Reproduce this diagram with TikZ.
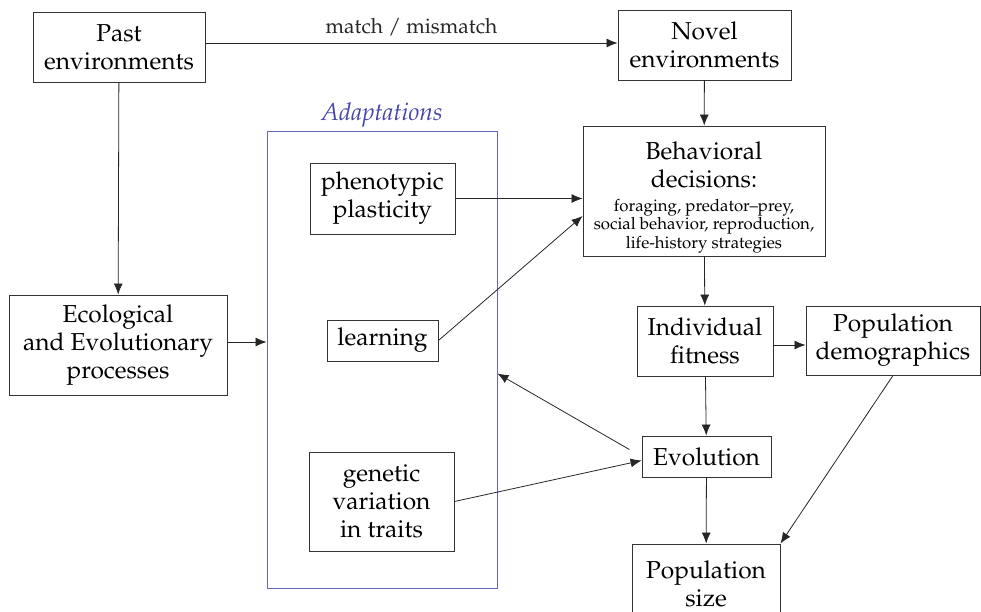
\documentclass[tikz,border=0pt]{standalone}
\usepackage[T1]{fontenc}
\usepackage{mathpazo}
\usetikzlibrary{arrows.meta}
\definecolor{adaptblue}{RGB}{100,100,195}
\definecolor{adapttext}{RGB}{70,70,170}
\tikzset{
  box/.style={draw=black!80, line width=0.9pt, align=center, inner sep=0pt,
    font=\fontsize{24.5}{28}\selectfont},
  small/.style={align=center, inner sep=0pt, font=\fontsize{16.8}{18.5}\selectfont},
  arr/.style={-{Latex[length=11pt,width=9pt]}, line width=0.8pt, black!85},
}
\begin{document}
\begin{tikzpicture}[x=1pt,y=-1pt]
    \useasboundingbox (0,0) rectangle (981,612);
    \node[box, minimum width=172pt, minimum height=70pt] (past) at (119,47) {Past\\environments};
    \node[box, minimum width=173pt, minimum height=70pt] (novel) at (704.5,45) {Novel\\environments};
    \node[box, minimum width=218pt, minimum height=100pt] (eco) at (118,345) {Ecological\\and Evolutionary\\processes};
    \node[draw=adaptblue, line width=0.9pt, minimum width=230pt, minimum height=457pt] (adapt) at (382,359.5) {};
    \node[font=\fontsize{24.5}{28}\selectfont\itshape, text=adapttext, anchor=south, inner sep=3pt] at (adapt.north) {Adaptations};
    \node[box, minimum width=145pt, minimum height=71pt] (pheno) at (382.5,198.5) {phenotypic\\plasticity};
    \node[box, minimum width=111pt, minimum height=41pt] (learn) at (382.5,340.5) {learning};
    \node[box, minimum width=145pt, minimum height=99pt] (genet) at (381.5,501.5) {genetic\\variation\\in traits};
    \node[box, minimum width=242pt, minimum height=130pt] (behav) at (704,191) {};
    \node[box, draw=none] at (704,165) {Behavioral\\decisions:};
    \node[small] at (704,226) {foraging, predator--prey,\\social behavior, reproduction,\\life-history strategies};
    \node[box, minimum width=136pt, minimum height=70pt] (fit) at (705,341) {Individual\\fitness};
    \node[box, minimum width=174pt, minimum height=69pt] (demo) at (893,340.5) {Population\\demographics};
    \node[box, minimum width=129pt, minimum height=41pt] (evol) at (706.5,456.5) {Evolution};
    \node[box, minimum width=148pt, minimum height=80pt] (popsize) at (706,584) {Population\\size};

    \draw[arr] (past.east |- 0,43) -- (novel.west |- 0,43) node[midway, above=3pt, font=\fontsize{21}{24}\selectfont] {match / mismatch};
    \draw[arr] (past) -- (eco);
    \draw[arr] (eco.east |- 0,342) -- (adapt.west |- 0,342);
    \draw[arr] (novel) -- (behav);
    \draw[arr] (pheno.east) -- (pheno.east -| behav.west);
    \draw[arr] (learn.east) -- ([yshift=-25pt]behav.west);
    \draw[arr] (behav) -- (fit);
    \draw[arr] (fit.east |- 0,345) -- (demo.west |- 0,345);
    \draw[arr] (fit) -- (evol);
    \draw[arr, shorten <=14pt] (evol.west) -- ([yshift=-14pt]adapt.east);
    \draw[arr] (genet.east) -- ([yshift=-4pt]evol.west);
    \draw[arr] (evol) -- (popsize);
    \draw[arr] (demo.south) -- (popsize.north east);
\end{tikzpicture}
\end{document}
